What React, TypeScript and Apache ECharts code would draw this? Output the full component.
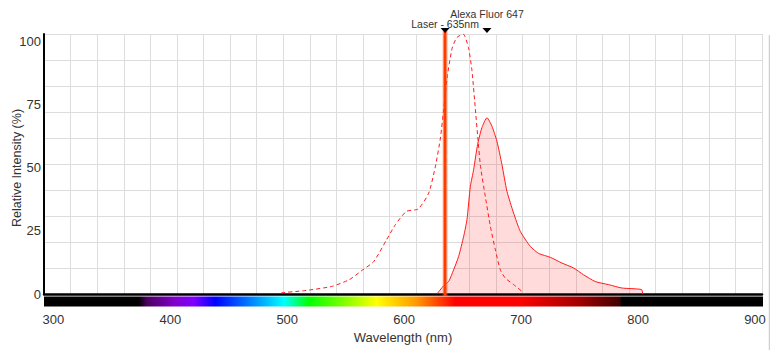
import React, { useEffect, useRef } from "react";
import * as echarts from "echarts";

// ---- data ----
const xTickLabels = [300, 400, 500, 600, 700, 800, 900];
const yTickLabels = [0, 25, 50, 75, 100];

const excitationNm = [495, 515, 538, 553, 564, 574, 585, 592.5, 602, 612, 621, 626.7, 631, 634, 637, 641, 645, 650.5, 655, 658, 661, 663, 665.3, 669.4, 673.7, 678, 682.2, 686.5, 693.6, 700.7, 702];
const excitationVal = [0.5, 1.3, 2.9, 5.5, 9.1, 12.5, 20.9, 26.7, 31.8, 32.7, 38.8, 49.1, 60, 72, 84, 94.5, 98.6, 100, 94.7, 85.8, 70.4, 60, 49, 37.5, 26, 17, 9.3, 6.1, 3.6, 1.0, 0];

const emissionNm = [628, 633.8, 638, 642.3, 646.6, 650.9, 653.7, 656.6, 659.4, 662.8, 666.5, 670.8, 675, 679.3, 683.6, 687.9, 693.6, 699.3, 707.9, 715, 725, 734.9, 744.9, 753.4, 763.4, 774.8, 786.2, 803, 804];
const emissionVal = [0, 3.2, 4.8, 9.3, 14.5, 22.2, 28.6, 41.4, 47.8, 57.5, 64, 67.8, 64.6, 58.8, 49.8, 39.5, 31.1, 24.1, 18.3, 15.6, 14.1, 11.9, 10, 7.4, 4.8, 3.6, 2.3, 1.7, 0];

const laserNm = 635;
const laserLabel = "Laser - 635nm";
const dyeName = "Alexa Fluor 647";

const spectrumNm = [373, 380, 403, 420, 438, 470, 497, 518, 550, 576, 610, 643, 698, 750, 784, 785];
const spectrumColor = ["#000000", "#4a0060", "#8000c8", "#7f00ff", "#0000ff", "#0088ff", "#00ffff", "#00ff00", "#88ff00", "#ffff00", "#ff9900", "#ff0000", "#ff0000", "#a00000", "#400000", "#000000"];

const X_MIN = 292;
const X_MAX = 906;
// the labelled y scale in the reference is slightly compressed relative to the gridlines
const Y_LABEL_MAX = 102.9;
const FONT = '"Liberation Sans", Arial, sans-serif';

export default function App() {
  const ref = useRef<HTMLDivElement>(null);
  useEffect(() => {
    document.body.style.margin = "0";
    if (!ref.current) return;
    const chart = echarts.init(ref.current, null, { renderer: "svg" });

    const peakIdx = emissionVal.indexOf(Math.max(...emissionVal));
    const peakNm = emissionNm[peakIdx];

    const stops = [{ offset: 0, color: "#000000" }]
      .concat(spectrumNm.map((nm, i) => ({ offset: (nm - X_MIN) / (X_MAX - X_MIN), color: spectrumColor[i] })))
      .concat([{ offset: 1, color: "#000000" }]);

    chart.setOption({
      animation: false,
      textStyle: { fontFamily: FONT },
      grid: { left: 44, right: 8, top: 34, bottom: 56, containLabel: false },
      xAxis: [
        {
          type: "value",
          position: "bottom",
          min: X_MIN,
          max: X_MAX,
          axisLine: { show: true, lineStyle: { color: "#000", width: 2.5 } },
          axisTick: { show: false },
          splitLine: { show: false },
          axisLabel: { customValues: xTickLabels, fontSize: 13, color: "#333", margin: 19 },
          name: "Wavelength (nm)",
          nameLocation: "middle",
          nameGap: 37,
          nameTextStyle: { fontSize: 13, color: "#333" },
        },
        {
          type: "value",
          position: "top",
          min: 0,
          max: 27,
          interval: 1,
          axisLine: { show: false },
          axisTick: { show: false },
          axisLabel: { show: false },
          splitLine: { show: true, lineStyle: { color: "#dddddd", width: 1 } },
        },
      ],
      yAxis: [
        {
          type: "value",
          position: "left",
          min: 0,
          max: 100,
          interval: 10,
          axisLine: { show: false },
          axisTick: { show: false },
          axisLabel: { show: false },
          splitLine: { show: true, lineStyle: { color: "#dddddd", width: 1 } },
        },
        {
          type: "value",
          position: "left",
          min: 0,
          max: Y_LABEL_MAX,
          interval: 25,
          axisLine: { show: true, lineStyle: { color: "#000", width: 2 } },
          axisTick: { show: false },
          splitLine: { show: false },
          axisLabel: {
            fontSize: 13,
            color: "#333",
            margin: 3,
            showMaxLabel: false,
            formatter: (v: number) => (yTickLabels.indexOf(v) >= 0 ? String(v) : ""),
          },
        },
      ],
      graphic: [
        {
          type: "text",
          x: 17,
          y: 168,
          rotation: Math.PI / 2,
          style: { text: "Relative Intensity (%)", font: `12.5px ${FONT}`, fill: "#333", align: "center", verticalAlign: "middle" },
        },
        {
          type: "line",
          shape: { x1: 769.5, y1: 35, x2: 769.5, y2: 350 },
          style: { stroke: "#d0d0d0", lineWidth: 1.5 },
        },
      ],
      series: [
        {
          type: "custom",
          name: "spectrum",
          xAxisIndex: 0,
          yAxisIndex: 0,
          clip: false,
          silent: true,
          z: 1,
          data: [[X_MIN, X_MAX]],
          renderItem: (params: any, api: any) => {
            const l = api.coord([api.value(0), 0]);
            const r = api.coord([api.value(1), 0]);
            return {
              type: "rect",
              shape: { x: l[0], y: l[1] + 2.5, width: r[0] - l[0] + 1, height: 10 },
              style: { fill: new echarts.graphic.LinearGradient(0, 0, 1, 0, stops) },
            };
          },
        },
        {
          type: "line",
          name: "Excitation",
          xAxisIndex: 0,
          yAxisIndex: 0,
          showSymbol: false,
          smooth: 0.2,
          data: excitationNm.map((x, i) => [x, excitationVal[i]]),
          lineStyle: { color: "#ff1a1a", width: 1, type: [4, 3] },
          z: 3,
        },
        {
          type: "line",
          name: "Emission",
          xAxisIndex: 0,
          yAxisIndex: 0,
          showSymbol: false,
          smooth: 0.2,
          data: emissionNm.map((x, i) => [x, emissionVal[i]]),
          lineStyle: { color: "#ff1a1a", width: 1 },
          areaStyle: { color: "rgba(255,0,0,0.2)" },
          z: 2,
        },
        {
          type: "custom",
          name: "markers",
          xAxisIndex: 0,
          yAxisIndex: 0,
          clip: false,
          silent: true,
          z: 5,
          data: [
            [laserNm, 1],
            [peakNm, 0],
          ],
          renderItem: (params: any, api: any) => {
            const nm = api.value(0);
            const isLaser = api.value(1) === 1;
            const x = api.coord([nm, 0])[0];
            const y0 = api.coord([nm, 0])[1];
            const yTop = api.coord([nm, 100])[1];
            const children: any[] = [];
            if (isLaser) {
              children.push({
                type: "line",
                shape: { x1: x, y1: yTop - 3, x2: x, y2: y0 + 2 },
                style: { stroke: "rgba(255,90,30,0.45)", lineWidth: 5 },
              });
              children.push({
                type: "line",
                shape: { x1: x, y1: yTop - 3, x2: x, y2: y0 + 2 },
                style: { stroke: "#ff3c00", lineWidth: 2.6 },
              });
            }
            children.push({
              type: "polygon",
              shape: { points: [[x - 4.5, yTop - 6], [x + 4.5, yTop - 6], [x, yTop - 1]] },
              style: { fill: "#000" },
            });
            children.push({
              type: "text",
              style: {
                text: isLaser ? laserLabel : dyeName,
                x: x,
                y: isLaser ? yTop - 10.5 : yTop - 20.5,
                align: "center",
                verticalAlign: "middle",
                font: `10.5px ${FONT}`,
                fill: "#333",
              },
            });
            return { type: "group", children };
          },
        },
      ],
    });
    return () => chart.dispose();
  }, []);
  return <div ref={ref} style={{ width: 770, height: 350 }} />;
}
